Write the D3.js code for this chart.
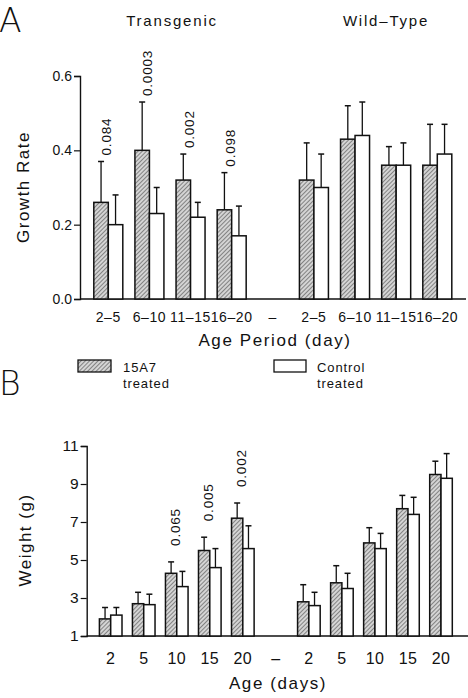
<!DOCTYPE html>
<html>
<head>
<meta charset="utf-8">
<script src="https://cdn.jsdelivr.net/npm/d3@7"></script>
<style>
  body { margin: 0; background: #fff; }
  text { font-family: "Liberation Sans", Arial, sans-serif; fill: #111; }
</style>
</head>
<body>
<div id="chart"></div>
<script>
// ---- data ----
const periodLabels = ["2–5", "6–10", "11–15", "16–20"];
const tgTreatedRate = [0.26, 0.40, 0.32, 0.24];
const tgTreatedRateErr = [0.11, 0.13, 0.07, 0.10];
const tgControlRate = [0.20, 0.23, 0.22, 0.17];
const tgControlRateErr = [0.08, 0.07, 0.04, 0.08];
const wtTreatedRate = [0.32, 0.43, 0.36, 0.36];
const wtTreatedRateErr = [0.10, 0.09, 0.05, 0.11];
const wtControlRate = [0.30, 0.44, 0.36, 0.39];
const wtControlRateErr = [0.09, 0.09, 0.06, 0.08];
const rateP = ["0.084", "0.0003", "0.002", "0.098"];
const rateTicks = [0.0, 0.2, 0.4, 0.6];

const ageLabels = ["2", "5", "10", "15", "20"];
const tgTreatedWeight = [1.9, 2.7, 4.3, 5.5, 7.2];
const tgTreatedWeightErr = [0.6, 0.6, 0.6, 0.7, 0.8];
const tgControlWeight = [2.1, 2.65, 3.6, 4.6, 5.6];
const tgControlWeightErr = [0.4, 0.55, 0.8, 1.0, 1.2];
const wtTreatedWeight = [2.8, 3.8, 5.9, 7.7, 9.5];
const wtTreatedWeightErr = [0.9, 0.9, 0.8, 0.7, 0.7];
const wtControlWeight = [2.6, 3.5, 5.6, 7.4, 9.3];
const wtControlWeightErr = [0.7, 0.8, 0.8, 0.9, 1.3];
const weightP = [null, null, "0.065", "0.005", "0.002"];
const weightTicks = [1, 3, 5, 7, 9, 11];

const W = 468, H = 698;
const svg = d3.select("#chart").append("svg")
  .attr("width", W).attr("height", H);

// hatch pattern for 15A7 treated bars
const defs = svg.append("defs");
const pat = defs.append("pattern")
  .attr("id", "hatch")
  .attr("patternUnits", "userSpaceOnUse")
  .attr("width", 3).attr("height", 3)
  .attr("patternTransform", "rotate(45)");
pat.append("rect").attr("width", 3).attr("height", 3).attr("fill", "#d4d4d4");
pat.append("line")
  .attr("x1", 0).attr("y1", 0).attr("x2", 0).attr("y2", 3)
  .attr("stroke", "#555").attr("stroke-width", 1.3);

// build the rows for one panel: group slots with a "–" gap between genotypes
function buildRows(labels, tgT, tgTe, tgC, tgCe, wtT, wtTe, wtC, wtCe, pvals) {
  const rows = [];
  labels.forEach((l, i) => rows.push({ key: "tg" + i, label: l, t: tgT[i], te: tgTe[i], c: tgC[i], ce: tgCe[i], p: pvals[i] }));
  rows.push({ key: "gap", label: "–", t: null });
  labels.forEach((l, i) => rows.push({ key: "wt" + i, label: l, t: wtT[i], te: wtTe[i], c: wtC[i], ce: wtCe[i], p: null }));
  return rows;
}

function drawPanel(cfg) {
  const g = svg.append("g");
  const x = d3.scalePoint().domain(cfg.rows.map(d => d.key)).range(cfg.xRange);
  const y = d3.scaleLinear().domain(cfg.yDomain).range([cfg.yBottom, cfg.yTop]);
  const bw = cfg.barWidth;

  // axes
  const yAxis = d3.axisLeft(y).tickValues(cfg.ticks).tickFormat(cfg.tickFormat).tickSizeOuter(0).tickSize(6).tickPadding(2);
  const ya = g.append("g").attr("transform", `translate(${cfg.xAxisStart},0)`).call(yAxis);
  ya.select(".domain").attr("stroke", "#111").attr("stroke-width", 1.4);
  ya.selectAll(".tick line").attr("stroke", "#111").attr("stroke-width", 1.2);
  ya.selectAll(".tick text").attr("font-size", cfg.tickFont).attr("fill", "#111")
    .style("font-family", "'Liberation Sans', Arial, sans-serif");

  g.append("line")
    .attr("x1", cfg.xAxisStart).attr("x2", cfg.xAxisEnd)
    .attr("y1", y(cfg.yDomain[0])).attr("y2", y(cfg.yDomain[0]))
    .attr("stroke", "#111").attr("stroke-width", 1.6);

  // category labels under the axis
  g.selectAll(".cat").data(cfg.rows).enter().append("text")
    .attr("x", d => x(d.key))
    .attr("y", cfg.catY)
    .attr("text-anchor", "middle")
    .attr("font-size", cfg.catFont)
    .attr("letter-spacing", cfg.catSpacing)
    .text(d => d.label);

  const bars = cfg.rows.filter(d => d.t !== null);

  // error bars first (drawn behind the bar outline)
  function errBar(sel, cx, top, err) {
    sel.append("line")
      .attr("x1", cx).attr("x2", cx)
      .attr("y1", y(top)).attr("y2", y(top + err))
      .attr("stroke", "#111").attr("stroke-width", 1.3);
    sel.append("line")
      .attr("x1", cx - 3).attr("x2", cx + 3)
      .attr("y1", y(top + err)).attr("y2", y(top + err))
      .attr("stroke", "#111").attr("stroke-width", 1.5);
  }
  bars.forEach(d => {
    errBar(g, x(d.key) - bw / 2, d.t, d.te);
    errBar(g, x(d.key) + bw / 2, d.c, d.ce);
  });

  g.selectAll(".bar-t").data(bars).enter().append("rect")
    .attr("x", d => x(d.key) - bw)
    .attr("y", d => y(d.t))
    .attr("width", bw)
    .attr("height", d => y(cfg.yDomain[0]) - y(d.t))
    .attr("fill", "url(#hatch)")
    .attr("stroke", "#111").attr("stroke-width", 1.5);

  g.selectAll(".bar-c").data(bars).enter().append("rect")
    .attr("x", d => x(d.key))
    .attr("y", d => y(d.c))
    .attr("width", bw)
    .attr("height", d => y(cfg.yDomain[0]) - y(d.c))
    .attr("fill", "#fff")
    .attr("stroke", "#111").attr("stroke-width", 1.5);

  // p-values, rotated, above the treated error bar
  bars.filter(d => d.p).forEach(d => {
    const px = x(d.key) - 1.5;
    const py = y(d.t + d.te) - cfg.pGap;
    g.append("text")
      .attr("transform", `translate(${px},${py}) rotate(-90)`)
      .attr("dominant-baseline", "central")
      .attr("font-size", cfg.pFont)
      .attr("letter-spacing", 0.8)
      .text(d.p);
  });

  // axis titles
  g.append("text")
    .attr("x", cfg.xTitleX).attr("y", cfg.xTitleY)
    .attr("text-anchor", "middle")
    .attr("font-size", 17).attr("letter-spacing", 1.6)
    .text(cfg.xTitle);

  g.append("text")
    .attr("transform", `translate(${cfg.yTitleX},${cfg.yTitleY}) rotate(-90)`)
    .attr("text-anchor", "middle")
    .attr("dominant-baseline", "central")
    .attr("font-size", 17).attr("letter-spacing", 1.5)
    .text(cfg.yTitle);
}

// ---- panel A: growth rate ----
drawPanel({
  rows: buildRows(periodLabels, tgTreatedRate, tgTreatedRateErr, tgControlRate, tgControlRateErr,
                  wtTreatedRate, wtTreatedRateErr, wtControlRate, wtControlRateErr, rateP),
  xRange: [108.3, 437.3],
  yDomain: [0, 0.6], yBottom: 299, yTop: 76,
  ticks: rateTicks, tickFormat: d3.format(".1f"), tickFont: 14,
  xAxisStart: 80, xAxisEnd: 466,
  barWidth: 14.5,
  catY: 322, catFont: 14, catSpacing: 0.6,
  pGap: 6, pFont: 13.5,
  xTitle: "Age Period (day)", xTitleX: 275, xTitleY: 346,
  yTitle: "Growth Rate", yTitleX: 23, yTitleY: 187
});

// ---- panel B: weight ----
drawPanel({
  rows: buildRows(ageLabels, tgTreatedWeight, tgTreatedWeightErr, tgControlWeight, tgControlWeightErr,
                  wtTreatedWeight, wtTreatedWeightErr, wtControlWeight, wtControlWeightErr, weightP),
  xRange: [110.7, 441],
  yDomain: [1, 11], yBottom: 636, yTop: 446,
  ticks: weightTicks, tickFormat: d3.format("d"), tickFont: 15.5,
  xAxisStart: 86.7, xAxisEnd: 468,
  barWidth: 11.3,
  catY: 664, catFont: 16, catSpacing: 0.3,
  pGap: 16, pFont: 13.5,
  xTitle: "Age (days)", xTitleX: 278, xTitleY: 689,
  yTitle: "Weight (g)", yTitleX: 25, yTitleY: 540
});

// group titles for panel A
svg.append("text").attr("x", 172).attr("y", 26).attr("text-anchor", "middle")
  .attr("font-size", 15).attr("letter-spacing", 1.8).text("Transgenic");
svg.append("text").attr("x", 386).attr("y", 26).attr("text-anchor", "middle")
  .attr("font-size", 15).attr("letter-spacing", 1.8).text("Wild–Type");

// panel letters
svg.append("text").attr("x", -1).attr("y", 32)
  .style("font-family", "'DejaVu Sans', sans-serif").attr("font-weight", 200)
  .attr("font-size", 33).text("A");
svg.append("text").attr("x", -1).attr("y", 395)
  .style("font-family", "'DejaVu Sans', sans-serif").attr("font-weight", 200)
  .attr("font-size", 33).text("B");

// legend
const legend = svg.append("g");
legend.append("rect").attr("x", 78).attr("y", 360).attr("width", 33).attr("height", 12)
  .attr("fill", "url(#hatch)").attr("stroke", "#111").attr("stroke-width", 1.3);
legend.append("text").attr("x", 123).attr("y", 372).attr("font-size", 13).attr("letter-spacing", 0.9).text("15A7");
legend.append("text").attr("x", 123).attr("y", 388).attr("font-size", 13).attr("letter-spacing", 0.9).text("treated");
legend.append("rect").attr("x", 274).attr("y", 360).attr("width", 32).attr("height", 12)
  .attr("fill", "#fff").attr("stroke", "#111").attr("stroke-width", 1.3);
legend.append("text").attr("x", 317).attr("y", 372).attr("font-size", 13).attr("letter-spacing", 0.9).text("Control");
legend.append("text").attr("x", 317).attr("y", 388).attr("font-size", 13).attr("letter-spacing", 0.9).text("treated");
</script>
</body>
</html>
